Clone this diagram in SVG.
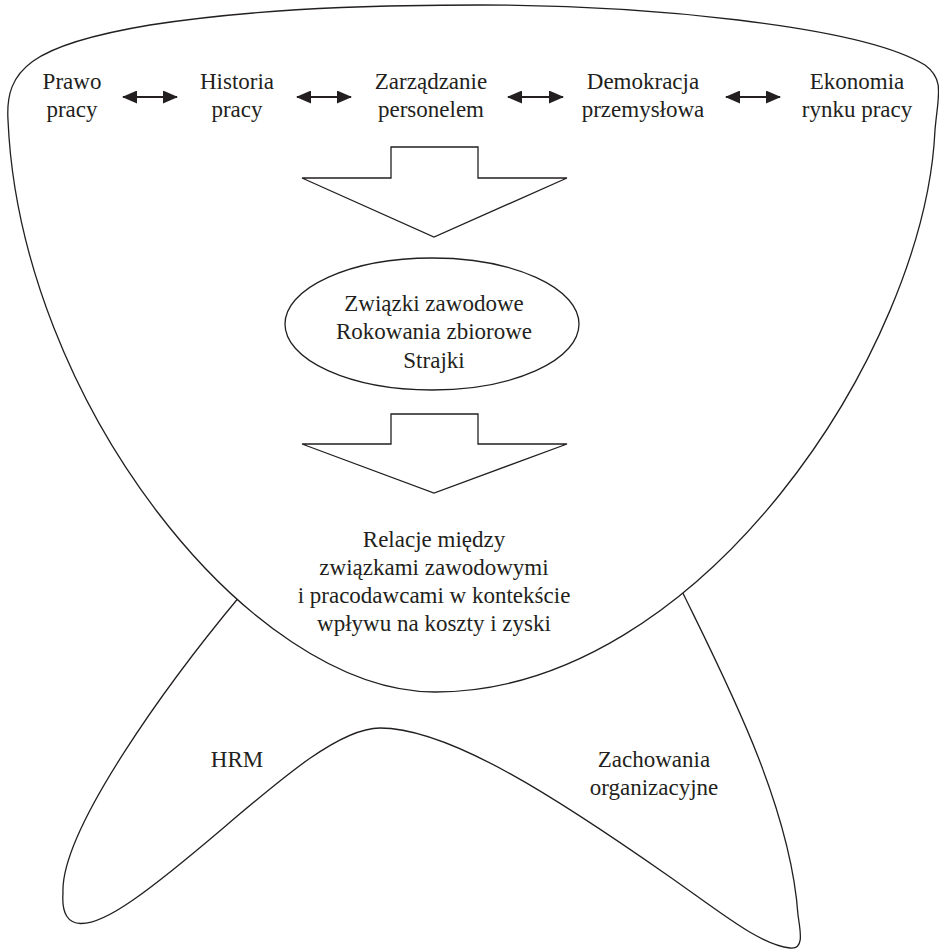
<svg xmlns="http://www.w3.org/2000/svg" width="939" height="951" viewBox="0 0 939 951">
<style>
.ln{fill:none;stroke:#231f20;stroke-width:1.3}
.sh{fill:#fff;stroke:#231f20;stroke-width:1.3}
.t{font-family:'Liberation Serif','Times New Roman',Tinos,Times,'Noto Serif','DejaVu Serif',serif;font-size:23px;fill:#231f20;text-anchor:middle}
.da{stroke:#231f20;stroke-width:2;fill:none;marker-start:url(#ah);marker-end:url(#ah)}
</style>
<defs>
<marker id="ah" viewBox="0 0 15 13" refX="14" refY="6.5" markerWidth="15" markerHeight="13" markerUnits="userSpaceOnUse" orient="auto-start-reverse">
<path d="M0,0 L15,6.5 L0,13 Z" fill="#231f20"/>
</marker>
</defs>
<rect width="939" height="951" fill="#fff"/>
<g id="lobes">
<path class="ln" d="M240,596 C170,680 60,830 63,893 C60,935 90,930 133,900 C220,840 320,728 380,728 C450,728 560,800 670,877 C720,912 760,945 790,948 C805,950 800,930 798,915 C790,800 720,670 678,583"/>
</g>
<g id="bowl">
<path class="sh" d="M8,120 C5,70 30,45 150,25 C280,5 420,5 480,5 C640,5 860,25 925,65 C945,80 938,95 935,130 C925,350 700,692 435,692 C250,692 20,400 8,120 Z"/>
</g>
<g id="n-prawo" font-family="Liberation Serif, serif"><text class="t" x="72" y="89">Prawo</text><text class="t" x="72" y="117">pracy</text></g>
<g id="n-historia"><text class="t" x="237" y="89">Historia</text><text class="t" x="237" y="117">pracy</text></g>
<g id="n-zarzadzanie"><text class="t" x="431" y="89">Zarządzanie</text><text class="t" x="431" y="117">personelem</text></g>
<g id="n-demokracja"><text class="t" x="643" y="89">Demokracja</text><text class="t" x="643" y="117">przemysłowa</text></g>
<g id="n-ekonomia"><text class="t" x="857" y="89">Ekonomia</text><text class="t" x="857" y="117">rynku pracy</text></g>
<g id="n-zwiazki">
<ellipse class="sh" cx="432" cy="324" rx="147" ry="66"/>
<text class="t" x="434" y="311">Związki zawodowe</text>
<text class="t" x="434" y="339">Rokowania zbiorowe</text>
<text class="t" x="434" y="368">Strajki</text>
</g>
<g id="n-relacje">
<text class="t" x="434" y="547">Relacje między</text>
<text class="t" x="434" y="575">związkami zawodowymi</text>
<text class="t" x="434" y="603">i pracodawcami w kontekście</text>
<text class="t" x="434" y="631">wpływu na koszty i zyski</text>
</g>
<g id="n-hrm"><text class="t" x="237" y="767">HRM</text></g>
<g id="n-zachowania"><text class="t" x="654" y="767">Zachowania</text><text class="t" x="654" y="795">organizacyjne</text></g>
<g id="connectors">
<line class="da" x1="123" y1="97" x2="177" y2="97"/>
<line class="da" x1="297" y1="97" x2="351" y2="97"/>
<line class="da" x1="508" y1="97" x2="563" y2="97"/>
<line class="da" x1="726" y1="97" x2="780" y2="97"/>
<path class="sh" d="M391,147 H478 V178 H567 L434,237 L302,178 H391 Z"/>
<path class="sh" d="M391,414 H478 V444 H567 L434,493 L302,444 H391 Z"/>
</g>
</svg>
